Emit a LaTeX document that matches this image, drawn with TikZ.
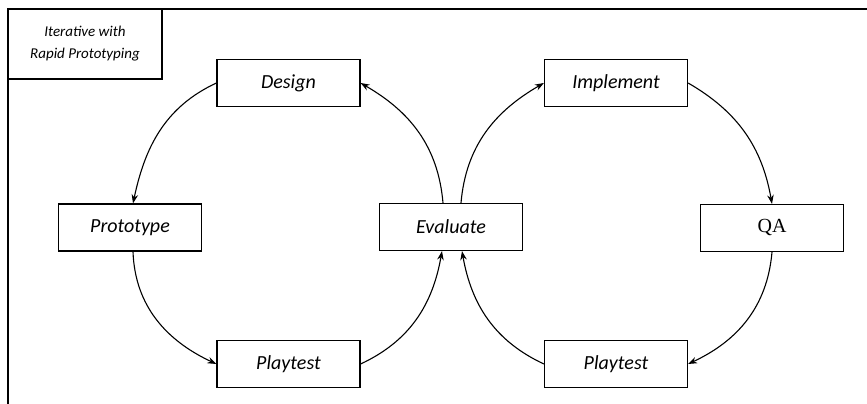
\documentclass[tikz,border=0pt]{standalone}
\usepackage{fontspec}
\setmainfont{Carlito}
\newfontfamily\serifqa{Liberation Serif}
\usetikzlibrary{arrows.meta}
\begin{document}
\begin{tikzpicture}[x=1pt,y=1pt,
  box/.style={draw,line width=1.2pt,minimum width=143pt,minimum height=47pt,inner sep=0pt,font=\fontsize{20}{24}\selectfont\itshape},
  conn/.style={line width=1.1pt,-{Stealth[length=9pt,width=6.5pt]}}]
\useasboundingbox (0,0) rectangle (867,404);
\fill[white] (0,0) rectangle (867,404);
\draw[line width=1.5pt] (8,0) -- (8,395) -- (867,395);
\node[draw,line width=1.2pt,minimum width=154pt,minimum height=70pt,inner sep=0pt,align=center,font=\fontsize{15}{22}\selectfont\itshape] (title) at (85,360) {Iterative with\\Rapid Prototyping};
\node[box] (design) at (288.5,321) {Design};
\node[box] (impl) at (616,321) {Implement};
\node[box] (proto) at (130,176.5) {Prototype};
\node[box] (eval) at (451,177) {Evaluate};
\node[box,font=\fontsize{20}{24}\selectfont\serifqa] (qa) at (772,176) {QA};
\node[box] (playL) at (288.5,40) {Playtest};
\node[box] (playR) at (616,40) {Playtest};
\draw[conn] (design.west) to[out=205,in=78] ([xshift=3pt]proto.north);
\draw[conn] ([xshift=3pt]proto.south) to[out=-88,in=155] (playL.west);
\draw[conn] (playL.east) to[out=25,in=-100] ([xshift=-9pt]eval.south);
\draw[conn] ([xshift=-8pt]eval.north) to[out=95,in=-30] (design.east);
\draw[conn] ([xshift=10pt]eval.north) to[out=85,in=210] (impl.west);
\draw[conn] (impl.east) to[out=-30,in=100] (qa.north);
\draw[conn] (qa.south) to[out=-95,in=25] (playR.east);
\draw[conn] (playR.west) to[out=155,in=-80] ([xshift=11pt]eval.south);
\end{tikzpicture}
\end{document}
